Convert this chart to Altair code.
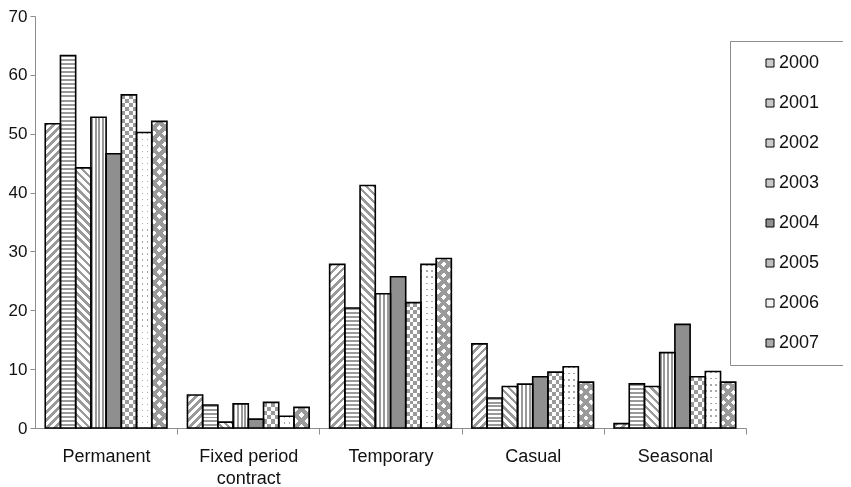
import altair as alt
import pandas as pd

# ---------------- data ----------------
categories = ["Permanent", "Fixed period contract", "Temporary", "Casual", "Seasonal"]
years = ["2000", "2001", "2002", "2003", "2004", "2005", "2006", "2007"]
permanent = [51.7, 63.3, 44.2, 52.8, 46.6, 56.6, 50.2, 52.1]
fixed_period = [5.6, 3.9, 1.0, 4.1, 1.5, 4.35, 2.0, 3.5]
temporary = [27.8, 20.4, 41.2, 22.8, 25.7, 21.3, 27.8, 28.8]
casual = [14.3, 5.1, 7.05, 7.45, 8.7, 9.5, 10.4, 7.8]
seasonal = [0.75, 7.5, 7.05, 12.8, 17.6, 8.7, 9.6, 7.8]
y_ticks = [0, 10, 20, 30, 40, 50, 60, 70]

series = [permanent, fixed_period, temporary, casual, seasonal]
rows = []
for c, vals in zip(categories, series):
    for yr, v in zip(years, vals):
        rows.append({"category": c, "year": yr, "value": v})
df = pd.DataFrame(rows)

# ---------------- styling helpers ----------------
FONT = "Liberation Sans"
GREY = "#9a9a9a"
WHITE = "#ffffff"
BLACK = "#000000"
AXIS_GREY = "#8c8c8c"
legend_greys = ["#cdcdcd", "#c8c8c8", "#cdcdcd", "#c8c8c8", "#8f8f8f", "#bdbdbd", "#f2f2f2", "#ababab"]

PLOT_W = 711
PLOT_H = 412
PAD_IN = 0.144
PAD_OUT = 0.072
STEP = PLOT_W / 5
BAR_W = STEP * (1 - PAD_IN) / 8
HALF_GAP = STEP * PAD_IN / 2
PX_PER_UNIT = PLOT_H / 70


def stripe_stops(n, duty, on, off):
    stops = []
    for i in range(n):
        a = round(i / n, 5)
        b = round((i + duty) / n, 5)
        c = round((i + 1) / n, 5)
        stops += [
            {"offset": a, "color": on},
            {"offset": b, "color": on},
            {"offset": b, "color": off},
            {"offset": c, "color": off},
        ]
    return stops


def lin(x1, y1, x2, y2, stops):
    return {"gradient": "linear", "x1": round(x1, 5), "y1": round(y1, 5),
            "x2": round(x2, 5), "y2": round(y2, 5), "stops": stops}


def diag(w, h, period, duty, on, off, slash=True):
    k = (w + h) / (w * w + h * h)
    a, b = k * w, k * h
    n = max(1, round((w + h) / period))
    st = stripe_stops(n, duty, on, off)
    if slash:
        return lin(0, 0, a, b, st)
    return lin(1, 0, 1 - a, b, st)


def horiz(h, period, duty, on, off):
    n = max(1, round(h / period))
    return lin(0, 0, 0, 1, stripe_stops(n, duty, on, off))


def vert(w, period, duty, on, off):
    n = max(1, round(w / period))
    return lin(0, 0, 1, 0, stripe_stops(n, duty, on, off))


def pattern_layers(year_idx, value):
    w = BAR_W
    h = max(value * PX_PER_UNIT, 1.0)
    if year_idx == 0:
        return [(diag(w, h, 8, 0.45, GREY, WHITE, True), None)]
    if year_idx == 1:
        return [(horiz(h, 4, 0.5, GREY, WHITE), None)]
    if year_idx == 2:
        return [(diag(w, h, 8, 0.45, GREY, WHITE, False), None)]
    if year_idx == 3:
        return [(vert(w, 4, 0.5, GREY, WHITE), None)]
    if year_idx == 4:
        return [("#8f8f8f", None)]
    if year_idx == 5:
        return [(horiz(h, 8, 0.5, WHITE, BLACK), None),
                (vert(w, 8, 0.5, WHITE, BLACK), "difference"),
                (GREY, "lighten")]
    if year_idx == 6:
        return [(horiz(h, 6, 0.25, "#a8a8a8", WHITE), None),
                (vert(w, 5, 0.3, BLACK, WHITE), "lighten")]
    return [(diag(w, h, 11, 0.5, WHITE, BLACK, True), None),
            (diag(w, h, 11, 0.5, WHITE, BLACK, False), "multiply"),
            (GREY, "lighten")]


# ---------------- encodings ----------------
x_enc = alt.X(
    "category:N",
    sort=categories,
    title=None,
    scale=alt.Scale(domain=categories, paddingInner=PAD_IN, paddingOuter=PAD_OUT),
    axis=alt.Axis(
        labelAngle=0,
        labelFont=FONT,
        labelFontSize=18,
        labelColor="#111111",
        labelPadding=13,
        labelLineHeight=22,
        labelExpr="datum.value == 'Fixed period contract' ? ['Fixed period', 'contract'] : datum.label",
        bandPosition=1,
        tickOffset=round(HALF_GAP, 2),
        labelOffset=-round(HALF_GAP, 2),
        tickSize=6,
        tickColor=AXIS_GREY,
        domainColor=AXIS_GREY,
        grid=False,
    ),
)
xo_enc = alt.XOffset("year:N", scale=alt.Scale(domain=years))
y_enc = alt.Y(
    "value:Q",
    title=None,
    stack=False,
    scale=alt.Scale(domain=[0, 70], nice=False),
    axis=alt.Axis(
        values=y_ticks,
        grid=False,
        labelFont=FONT,
        labelFontSize=17,
        labelColor="#111111",
        labelPadding=3,
        tickSize=5,
        tickColor=AXIS_GREY,
        domainColor=AXIS_GREY,
    ),
)

base = alt.Chart().encode(x=x_enc, xOffset=xo_enc, y=y_enc)

layers = []
# legend carrier (covered by the pattern layers)
layers.append(
    base.mark_bar().encode(
        fill=alt.Fill(
            "year:N",
            scale=alt.Scale(domain=years, range=legend_greys),
            legend=alt.Legend(
                orient="none",
                legendX=695,
                legendY=25,
                title=" ",
                titleOrient="right",
                titlePadding=40,
                padding=13,
                fillColor="white",
                strokeColor=AXIS_GREY,
                symbolType="square",
                symbolSize=64,
                symbolStrokeColor="black",
                symbolStrokeWidth=1,
                symbolOffset=18,
                labelFont=FONT,
                labelFontSize=18,
                labelColor="#111111",
                labelOffset=0,
                rowPadding=22,
            ),
        )
    )
)

# pattern layers, one set per bar
for c, vals in zip(categories, series):
    for yi, (yr, v) in enumerate(zip(years, vals)):
        for fill, blend in pattern_layers(yi, v):
            kw = {"fill": fill}
            if blend:
                kw["blend"] = blend
            layers.append(
                base.mark_bar(**kw).transform_filter(
                    (alt.datum.category == c) & (alt.datum.year == yr)
                )
            )

# outlines on top
layers.append(base.mark_bar(fillOpacity=0, stroke="black", strokeWidth=1.6))

chart = (
    alt.layer(*layers, data=df)
    .properties(
        width=PLOT_W,
        height=PLOT_H,
        autosize=alt.AutoSizeParams(type="none"),
        padding={"left": 27, "top": 8, "right": 97, "bottom": 59},
        background="white",
    )
    .configure_view(strokeWidth=0)
)

chart.save("out.html", embed_options={"renderer": "svg", "actions": False})
